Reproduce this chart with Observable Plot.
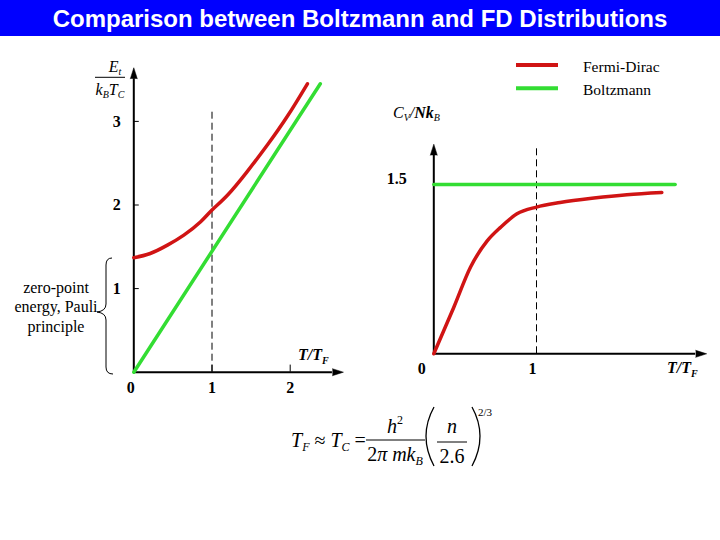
<!DOCTYPE html>
<html>
<head>
<meta charset="utf-8">
<script src="https://cdn.jsdelivr.net/npm/d3@7"></script>
<script src="https://cdn.jsdelivr.net/npm/@observablehq/plot@0.6"></script>
<style>
  html, body { margin: 0; padding: 0; background: #fff; }
  #wrap { position: relative; width: 720px; height: 540px; overflow: hidden; background: #fff; }
  #wrap > svg, #wrap > div, #wrap > figure { position: absolute; left: 0; top: 0; margin: 0; }
  #title { width: 720px; height: 36px; background: #0000ff; color: #fff;
           font: bold 24px "Liberation Sans", Arial, sans-serif; text-align: center; line-height: 37px; }
  #overlay text { font-family: "Liberation Serif", "Times New Roman", serif; }
</style>
</head>
<body>
<div id="wrap">
  <div id="title">Comparison between Boltzmann and FD Distributions</div>
</div>
<script>
// ---------- data ----------
// Left panel: mean energy E_t/(k_B T_C) versus T/T_F
const energyT      = [0, 0.21, 0.43, 0.64, 0.855, 1.0, 1.20, 1.45, 1.71, 1.97, 2.22];
const energyFD     = [1.37, 1.42, 1.52, 1.64, 1.80, 1.94, 2.12, 2.40, 2.72, 3.07, 3.45];
const energyBoltzT = [0, 2.385];
const energyBoltz  = [0, 3.45];
const energyYTicks = [1, 2, 3];
const energyXTicks = [0, 1, 2];

// Right panel: heat capacity C_V/Nk_B versus T/T_F
const heatT        = [0, 0.195, 0.357, 0.52, 0.65, 0.81, 1.0, 1.23, 1.56, 1.88, 2.22];
const heatFD       = [0, 0.413, 0.767, 1.00, 1.12, 1.24, 1.30, 1.34, 1.38, 1.41, 1.43];
const heatBoltzT   = [0, 2.35];
const heatBoltz    = [1.5, 1.5];
const heatYTicks   = [1.5];
const heatXTicks   = [0, 1];

const seriesNames  = ["Fermi-Dirac", "Boltzmann"];
const seriesColors = ["#d01414", "#33dd33"];

// ---------- helpers ----------
const serif = '"Liberation Serif", "Times New Roman", serif';
const zip = (xs, ys) => xs.map((x, i) => ({x, y: ys[i]}));
const tickFont = {fontSize: 16, fontWeight: "bold", fontFamily: serif, fill: "black"};

function axisMarks(xEnd, yEnd) {
  return [
    Plot.ruleY([0], {x1: 0, x2: xEnd, stroke: "black", strokeWidth: 2}),
    Plot.ruleX([0], {y1: 0, y2: yEnd, stroke: "black", strokeWidth: 2}),
    Plot.vector([{x: xEnd, y: 0}], {x: "x", y: "y", rotate: 90, length: 11, r: 3.5, shape: "spike",
      anchor: "start", fill: "black", stroke: "black", strokeWidth: 0.5}),
    Plot.vector([{x: 0, y: yEnd}], {x: "x", y: "y", rotate: 0, length: 11, r: 3.5, shape: "spike",
      anchor: "start", fill: "black", stroke: "black", strokeWidth: 0.5})
  ];
}

// ---------- left plot ----------
const left = Plot.plot({
  width: 720, height: 540, margin: 0,
  x: {type: "linear", domain: [0, 1], range: [133.3, 211.5], axis: null},
  y: {type: "linear", domain: [0, 1], range: [371.7, 288.1], axis: null},
  style: {background: "transparent", overflow: "visible"},
  marks: [
    ...axisMarks(2.54, 3.51),
    Plot.ruleY(energyYTicks, {y: d => d, x1: 0, x2: 0.07, stroke: "black", strokeWidth: 1}),
    Plot.ruleX(energyXTicks.filter(d => d > 0), {x: d => d, y1: 0, y2: 0.085, stroke: "black", strokeWidth: 1}),
    Plot.ruleX([1], {x: d => d, y1: 0, y2: 3.11, stroke: "black", strokeWidth: 1, strokeDasharray: "7,4"}),
    Plot.line(zip(energyBoltzT, energyBoltz), {x: "x", y: "y", stroke: seriesColors[1], strokeWidth: 3.5}),
    Plot.line(zip(energyT, energyFD), {x: "x", y: "y", stroke: seriesColors[0], strokeWidth: 3.5, curve: "natural"}),
    Plot.text(energyYTicks, {x: 0, y: d => d, dx: -17, text: d => String(d), ...tickFont}),
    Plot.text(energyXTicks.filter(d => d === 0), {x: d => d, y: 0, dy: 16, dx: -3, text: d => String(d), ...tickFont}),
    Plot.text(energyXTicks.filter(d => d > 0), {x: d => d, y: 0, dy: 16, text: d => String(d), ...tickFont})
  ]
});

// ---------- right plot ----------
const right = Plot.plot({
  width: 720, height: 540, margin: 0,
  x: {type: "linear", domain: [0, 1], range: [433.3, 536], axis: null},
  y: {type: "linear", domain: [0, 1.5], range: [353.3, 184], axis: null},
  style: {background: "transparent", overflow: "visible"},
  marks: [
    ...axisMarks(2.55, 1.76),
    Plot.ruleX([1], {x: d => d, y1: 0, y2: 1.83, stroke: "black", strokeWidth: 1, strokeDasharray: "7,4"}),
    Plot.line(zip(heatBoltzT, heatBoltz), {x: "x", y: "y", stroke: seriesColors[1], strokeWidth: 3.5}),
    Plot.line(zip(heatT, heatFD), {x: "x", y: "y", stroke: seriesColors[0], strokeWidth: 3.5, curve: "monotone-x"}),
    Plot.text(heatYTicks, {x: 0, y: d => d, dx: -37, dy: -6, text: d => String(d), ...tickFont}),
    Plot.text(heatXTicks.filter(d => d === 0), {x: d => d, y: 0, dy: 15, dx: -12, text: d => String(d), ...tickFont}),
    Plot.text(heatXTicks.filter(d => d > 0), {x: d => d, y: 0, dy: 15, dx: -4, text: d => String(d), ...tickFont})
  ]
});

const wrap = document.getElementById("wrap");
wrap.appendChild(left);
wrap.appendChild(right);

// ---------- annotations overlay (labels, legend, formula) ----------
const ov = d3.select(wrap).append("svg")
  .attr("id", "overlay")
  .attr("width", 720).attr("height", 540)
  .style("position", "absolute").style("left", 0).style("top", 0);

// legend
seriesNames.forEach((name, i) => {
  const y = 65 + i * 23.3;
  ov.append("line").attr("x1", 516).attr("x2", 558).attr("y1", y).attr("y2", y)
    .attr("stroke", seriesColors[i]).attr("stroke-width", 4);
  ov.append("text").attr("x", 583).attr("y", y + 6.5).attr("font-size", 15.5).text(name);
});

// left y label: E_t / (k_B T_C)
const e1 = ov.append("text").attr("x", 115).attr("y", 71.7).attr("text-anchor", "middle")
  .attr("font-size", 16).attr("font-style", "italic");
e1.append("tspan").text("E");
e1.append("tspan").attr("font-size", 10).attr("dy", 3).text("t");
ov.append("line").attr("x1", 95).attr("x2", 125).attr("y1", 77.3).attr("y2", 77.3)
  .attr("stroke", "black").attr("stroke-width", 1);
const e2 = ov.append("text").attr("x", 110).attr("y", 95).attr("text-anchor", "middle")
  .attr("font-size", 16).attr("font-style", "italic");
e2.append("tspan").text("k");
e2.append("tspan").attr("font-size", 10).attr("dy", 3).text("B");
e2.append("tspan").attr("dy", -3).text("T");
e2.append("tspan").attr("font-size", 10).attr("dy", 3).text("C");

// right y label: C_V/Nk_B
const c1 = ov.append("text").attr("x", 393).attr("y", 118).attr("font-size", 16).attr("font-style", "italic");
c1.append("tspan").text("C");
c1.append("tspan").attr("font-size", 10).attr("dy", 3).text("V");
c1.append("tspan").attr("dy", -3).text("/");
c1.append("tspan").attr("font-weight", "bold").text("Nk");
c1.append("tspan").attr("font-size", 10).attr("dy", 3).text("B");

// x axis labels T/T_F
[[298, 360], [667, 373]].forEach(([x, y]) => {
  const t = ov.append("text").attr("x", x).attr("y", y).attr("font-size", 16)
    .attr("font-style", "italic").attr("font-weight", "bold");
  t.append("tspan").text("T/T");
  t.append("tspan").attr("font-size", 10).attr("dy", 4).text("F");
});

// brace and its note
ov.append("path")
  .attr("d", "M112,258 Q106,258 106,265 L106,304 Q106,311 97,312 Q106,313 106,320 L106,367 Q106,374 113,374")
  .attr("fill", "none").attr("stroke", "black").attr("stroke-width", 1);
["zero-point", "energy, Pauli", "principle"].forEach((s, i) => {
  ov.append("text").attr("x", 56).attr("y", 293 + i * 19.3).attr("text-anchor", "middle")
    .attr("font-size", 16).text(s);
});

// formula: T_F ≈ T_C = h^2 / (2π m k_B) (n/2.6)^{2/3}
const f = ov.append("g").attr("font-size", 20);
const f1 = f.append("text").attr("x", 291).attr("y", 447).attr("font-size", 20).attr("font-style", "italic");
f1.append("tspan").text("T");
f1.append("tspan").attr("font-size", 12).attr("dy", 4).text("F");
f1.append("tspan").attr("dy", -4).attr("font-style", "normal").text(" ≈ ");
f1.append("tspan").text("T");
f1.append("tspan").attr("font-size", 12).attr("dy", 4).text("C");
f1.append("tspan").attr("dy", -4).attr("font-style", "normal").text(" =");
const fh = f.append("text").attr("x", 395).attr("y", 433).attr("font-size", 20).attr("text-anchor", "middle").attr("font-style", "italic");
fh.append("tspan").text("h");
fh.append("tspan").attr("font-size", 12).attr("dy", -9).attr("font-style", "normal").text("2");
f.append("line").attr("x1", 366).attr("x2", 425).attr("y1", 440).attr("y2", 440).attr("stroke", "black").attr("stroke-width", 1);
const fd = f.append("text").attr("x", 395).attr("y", 461).attr("font-size", 20).attr("text-anchor", "middle");
fd.append("tspan").text("2");
fd.append("tspan").attr("font-style", "italic").text("π mk");
fd.append("tspan").attr("font-size", 12).attr("dy", 4).attr("font-style", "italic").text("B");
f.append("path").attr("d", "M434,407 Q418,436 434,466").attr("fill", "none").attr("stroke", "black").attr("stroke-width", 1.3);
f.append("path").attr("d", "M472,407 Q488,436 472,466").attr("fill", "none").attr("stroke", "black").attr("stroke-width", 1.3);
f.append("text").attr("x", 452).attr("y", 433).attr("font-size", 20).attr("text-anchor", "middle").attr("font-style", "italic").text("n");
f.append("line").attr("x1", 437).attr("x2", 467).attr("y1", 442).attr("y2", 442).attr("stroke", "black").attr("stroke-width", 1);
f.append("text").attr("x", 452).attr("y", 463).attr("font-size", 20).attr("text-anchor", "middle").text("2.6");
f.append("text").attr("x", 478).attr("y", 416).attr("font-size", 11).text("2/3");
</script>
</body>
</html>
